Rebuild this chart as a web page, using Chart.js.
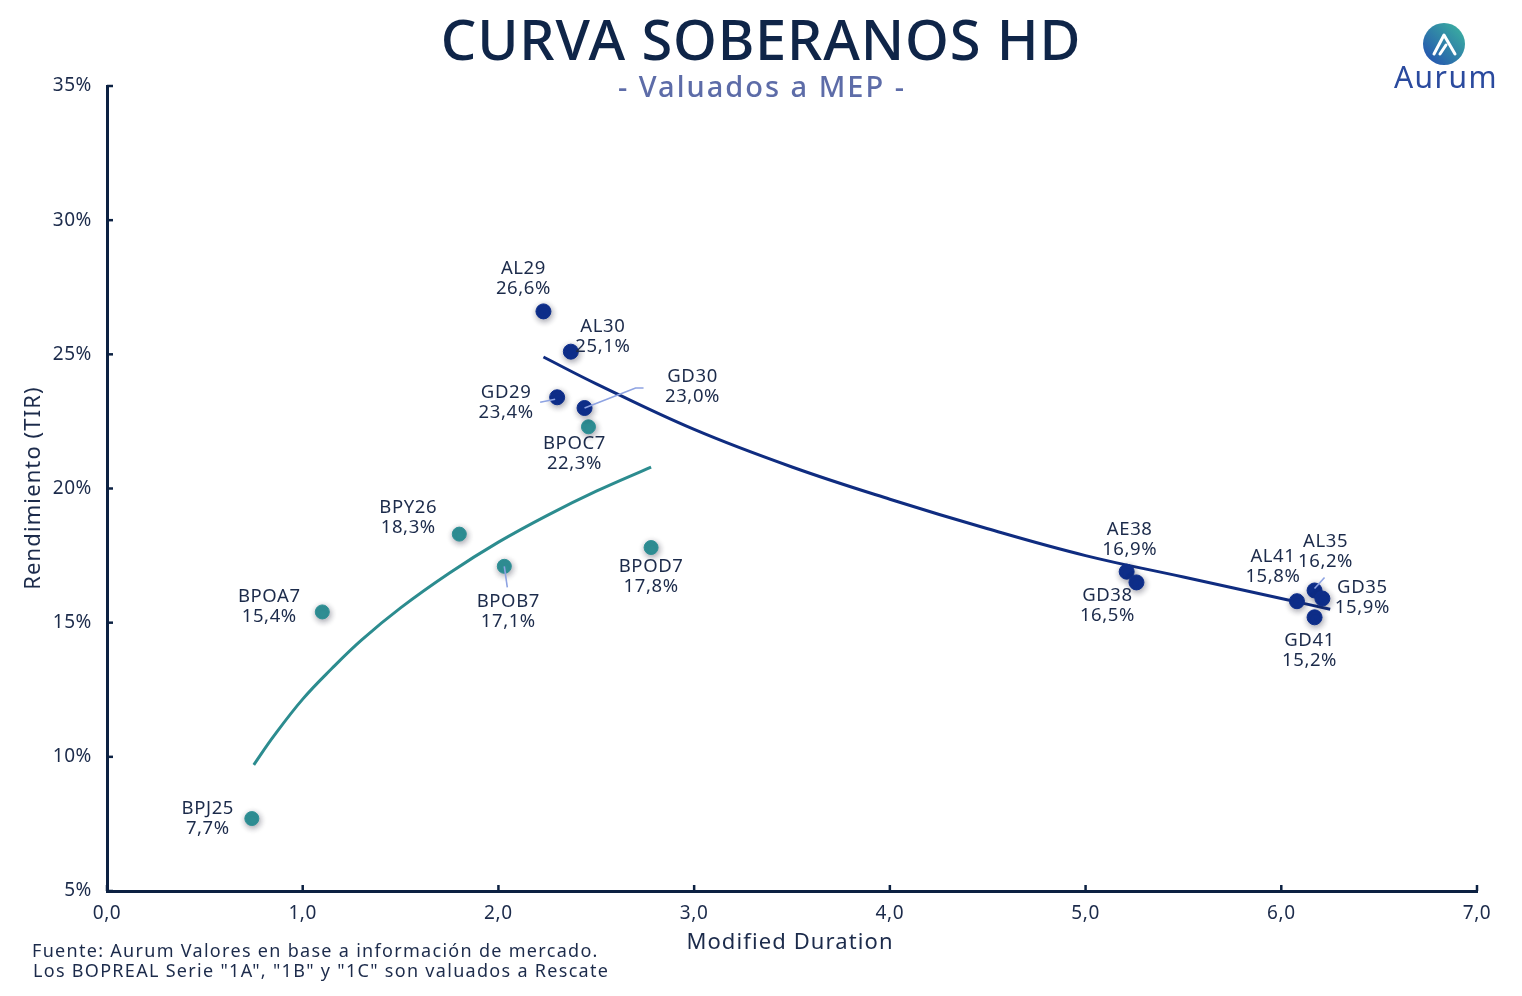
<!DOCTYPE html>
<html>
<head>
<meta charset="utf-8">
<script src="https://cdn.jsdelivr.net/npm/chart.js@4.4.1/dist/chart.umd.min.js"></script>
<style>
  body { margin: 0; background: #ffffff; }
  #wrap { width: 1522px; height: 996px; position: relative; }
</style>
</head>
<body>
<div id="wrap"><canvas id="curva"></canvas></div>
<script>
// bonos hard dollar (azul)
const bonosHD = ['AL29', 'AL30', 'GD29', 'GD30', 'AE38', 'GD38', 'AL41', 'AL35', 'GD35', 'GD41']
const durHD = [2.23, 2.37, 2.30, 2.44, 5.21, 5.26, 6.08, 6.17, 6.21, 6.17]
const tirHD = [26.6, 25.1, 23.4, 23.0, 16.9, 16.5, 15.8, 16.2, 15.9, 15.2]

// BOPREAL (verde)
const bopreal = ['BPOC7', 'BPY26', 'BPOB7', 'BPOD7', 'BPOA7', 'BPJ25']
const durBP = [2.46, 1.80, 2.03, 2.78, 1.10, 0.74]
const tirBP = [22.3, 18.3, 17.1, 17.8, 15.4, 7.7]

// lineas de tendencia
const tendHDx = [2.23, 2.5, 3.0, 3.5, 4.0, 4.5, 5.0, 5.5, 6.0, 6.25]
const tendHDy = [24.9, 23.9, 22.2, 20.8, 19.6, 18.5, 17.5, 16.7, 15.9, 15.5]
const tendBPx = [0.75, 0.85, 1.0, 1.15, 1.3, 1.5, 1.75, 2.0, 2.25, 2.5, 2.78]
const tendBPy = [9.7, 10.75, 12.15, 13.3, 14.35, 15.55, 16.85, 18.0, 19.0, 19.9, 20.8]

// ejes
const ticksX = [0, 1, 2, 3, 4, 5, 6, 7]
const ticksY = [5, 10, 15, 20, 25, 30, 35]

const AZUL = '#0d2e8c'
const VERDE = '#2f9196'
const TEXTO = '#1c2b4b'
const EJE = '#0c2142'
const FUENTE = "'Noto Sans', sans-serif"

// donde va cada etiqueta respecto del punto (px) + linea guia opcional
const posHD = [
    { dx: -20, dy: -43 },
    { dx: 32, dy: -25 },
    { dx: -51, dy: -5, guia: [[-17, 5], [-2, 2]] },
    { dx: 108, dy: -31, guia: [[0, 0], [51, -20], [59, -20]] },
    { dx: 3, dy: -42 },
    { dx: -29, dy: 13 },
    { dx: -24, dy: -44 },
    { dx: 11, dy: -49, guia: [[0, -2], [10, -13]] },
    { dx: 40, dy: -11 },
    { dx: -5, dy: 23 },
]
const posBP = [
    { dx: -14, dy: 17 },
    { dx: -51, dy: -26 },
    { dx: 4, dy: 35, guia: [[0, 0], [3, 21]] },
    { dx: 0, dy: 19 },
    { dx: -53, dy: -15 },
    { dx: -44, dy: -10 },
]

const fmt = v => v.toFixed(1).replace('.', ',') + '%'

const puntos = (xs, ys) => xs.map((x, i) => ({ x: x, y: ys[i] }))

const data = {
    datasets: [
        {
            label: 'Soberanos HD',
            data: puntos(durHD, tirHD),
            backgroundColor: AZUL,
            borderColor: AZUL,
            pointRadius: 7.5,
            pointHoverRadius: 7.5,
        },
        {
            label: 'BOPREAL',
            data: puntos(durBP, tirBP),
            backgroundColor: VERDE,
            borderColor: VERDE,
            pointRadius: 7,
            pointHoverRadius: 7,
        },
        {
            label: 'Tendencia HD',
            type: 'line',
            data: puntos(tendHDx, tendHDy),
            borderColor: '#0f2c80',
            borderWidth: 3,
            pointRadius: 0,
            tension: 0.4,
            fill: false,
        },
        {
            label: 'Tendencia BOPREAL',
            type: 'line',
            data: puntos(tendBPx, tendBPy),
            borderColor: '#2c8c8f',
            borderWidth: 3,
            pointRadius: 0,
            tension: 0.4,
            fill: false,
        },
    ]
}

// espaciado de letras para los ticks
const espaciado = {
    id: 'espaciado',
    beforeLayout(chart) { chart.ctx.letterSpacing = '0.6px' },
    beforeDraw(chart) { chart.ctx.letterSpacing = '0.6px' },
}

// sombra de los puntos
const sombras = {
    id: 'sombras',
    beforeDatasetDraw(chart, args) {
        const ctx = chart.ctx
        ctx.save()
        if (args.index < 2) {
            ctx.shadowColor = 'rgba(40,40,60,0.45)'
            ctx.shadowBlur = 6
            ctx.shadowOffsetX = 1
            ctx.shadowOffsetY = 2
        }
    },
    afterDatasetDraw(chart) {
        chart.ctx.restore()
    }
}

// ticks hacia adentro
const ticksAdentro = {
    id: 'ticksAdentro',
    afterDraw(chart) {
        const ctx = chart.ctx
        const { x, y } = chart.scales
        ctx.save()
        ctx.strokeStyle = EJE
        ctx.lineWidth = 2.5
        ticksX.forEach(t => {
            const px = x.getPixelForValue(t)
            ctx.beginPath()
            ctx.moveTo(px, y.bottom)
            ctx.lineTo(px, y.bottom - 6)
            ctx.stroke()
        })
        ticksY.forEach(t => {
            const py = y.getPixelForValue(t)
            ctx.beginPath()
            ctx.moveTo(x.left, py)
            ctx.lineTo(x.left + 6, py)
            ctx.stroke()
        })
        ctx.restore()
    }
}

// etiquetas de cada bono
const etiquetas = {
    id: 'etiquetas',
    afterDatasetsDraw(chart) {
        const ctx = chart.ctx
        const grupos = [
            { meta: chart.getDatasetMeta(0), nombres: bonosHD, valores: tirHD, pos: posHD },
            { meta: chart.getDatasetMeta(1), nombres: bopreal, valores: tirBP, pos: posBP },
        ]
        ctx.save()
        grupos.forEach(g => {
            g.meta.data.forEach((pt, i) => {
                const p = g.pos[i]
                if (p.guia) {
                    ctx.strokeStyle = '#8ea3e2'
                    ctx.lineWidth = 1.6
                    ctx.beginPath()
                    p.guia.forEach((q, k) => {
                        if (k == 0) ctx.moveTo(pt.x + q[0], pt.y + q[1])
                        else ctx.lineTo(pt.x + q[0], pt.y + q[1])
                    })
                    ctx.stroke()
                }
                ctx.fillStyle = TEXTO
                ctx.font = '18.5px ' + FUENTE
                ctx.letterSpacing = '0.6px'
                ctx.textAlign = 'center'
                ctx.textBaseline = 'middle'
                ctx.fillText(g.nombres[i], pt.x + p.dx, pt.y + p.dy)
                ctx.fillText(fmt(g.valores[i]), pt.x + p.dx, pt.y + p.dy + 20)
            })
        })
        ctx.restore()
    }
}

// titulos, notas y logo
const textos = {
    id: 'textos',
    afterDraw(chart) {
        const ctx = chart.ctx
        ctx.save()
        ctx.textAlign = 'center'
        ctx.textBaseline = 'alphabetic'

        ctx.fillStyle = '#0f2548'
        ctx.font = '500 56px ' + FUENTE
        ctx.letterSpacing = '0.8px'
        ctx.fillText('CURVA SOBERANOS HD', 761, 60)

        ctx.fillStyle = '#5d6ca8'
        ctx.font = '500 29px ' + FUENTE
        ctx.letterSpacing = '2px'
        ctx.fillText('- Valuados a MEP -', 762, 97)

        ctx.fillStyle = TEXTO
        ctx.font = '22px ' + FUENTE
        ctx.letterSpacing = '1.1px'
        ctx.fillText('Modified Duration', 790, 949)

        ctx.save()
        ctx.translate(40, 488)
        ctx.rotate(-Math.PI / 2)
        ctx.fillText('Rendimiento (TIR)', 0, 0)
        ctx.restore()

        ctx.textAlign = 'left'
        ctx.font = '18px ' + FUENTE
        ctx.letterSpacing = '1.3px'
        ctx.fillText('Fuente: Aurum Valores en base a información de mercado.', 32, 957)
        ctx.fillText('Los BOPREAL Serie "1A", "1B" y "1C" son valuados a Rescate', 33, 977)

        // logo
        const g = ctx.createLinearGradient(1426, 62, 1462, 26)
        g.addColorStop(0, '#2452b0')
        g.addColorStop(1, '#3bb0a0')
        ctx.fillStyle = g
        ctx.beginPath()
        ctx.arc(1444, 44, 21, 0, Math.PI * 2)
        ctx.fill()
        ctx.strokeStyle = '#ffffff'
        ctx.lineWidth = 3
        ctx.lineJoin = 'round'
        ctx.lineCap = 'round'
        ctx.beginPath()
        ctx.moveTo(1434, 54)
        ctx.lineTo(1444, 35)
        ctx.lineTo(1455, 54)
        ctx.moveTo(1440, 54)
        ctx.lineTo(1446, 45)
        ctx.stroke()

        ctx.fillStyle = '#2a4a9e'
        ctx.textAlign = 'center'
        ctx.font = '30px ' + FUENTE
        ctx.letterSpacing = '1.5px'
        ctx.fillText('Aurum', 1446, 88)
        ctx.restore()
    }
}

const config = {
    type: 'scatter',
    data: data,
    options: {
        responsive: true,
        maintainAspectRatio: false,
        animation: false,
        layout: {
            padding: { top: 86, right: 45, left: 0, bottom: 0 }
        },
        plugins: {
            legend: { display: false },
            tooltip: { enabled: false },
        },
        scales: {
            x: {
                type: 'linear',
                min: 0,
                max: 7,
                afterFit: s => { s.height = 105 },
                afterBuildTicks: s => { s.ticks = ticksX.map(v => ({ value: v })) },
                grid: { display: false, drawTicks: false },
                border: { display: true, color: EJE, width: 3 },
                ticks: {
                    padding: 11,
                    color: TEXTO,
                    font: { size: 19, family: FUENTE },
                    callback: v => v.toFixed(1).replace('.', ','),
                },
            },
            y: {
                min: 5,
                max: 35,
                afterFit: s => { s.width = 107 },
                afterBuildTicks: s => { s.ticks = ticksY.map(v => ({ value: v })) },
                grid: { display: false, drawTicks: false },
                border: { display: true, color: EJE, width: 3 },
                ticks: {
                    padding: 15,
                    color: TEXTO,
                    font: { size: 19, family: FUENTE },
                    callback: v => v + '%',
                },
            },
        },
    },
    plugins: [espaciado, sombras, ticksAdentro, etiquetas, textos],
}

const grafico = new Chart(document.getElementById('curva'), config)
</script>
</body>
</html>
